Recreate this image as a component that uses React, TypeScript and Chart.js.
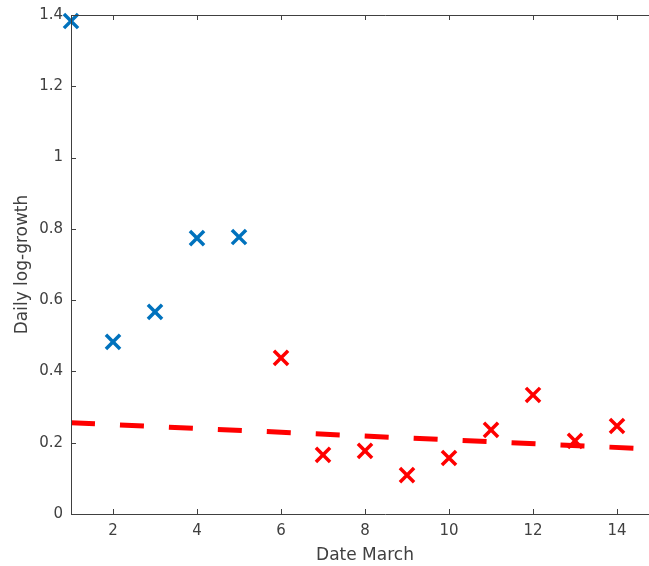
import React, { useEffect, useRef } from "react";
import { Chart, registerables } from "chart.js";

Chart.register(...registerables);

const earlyDays = [1, 2, 3, 4, 5];
const earlyGrowth = [1.383, 0.483, 0.567, 0.774, 0.777];
const lateDays = [6, 7, 8, 9, 10, 11, 12, 13, 14];
const lateGrowth = [0.438, 0.166, 0.177, 0.109, 0.157, 0.236, 0.334, 0.205, 0.247];
const trendDays = [1, 14.5];
const trendGrowth = [0.256, 0.184];
const xTickValues = [2, 4, 6, 8, 10, 12, 14];
const yTickValues = [0, 0.2, 0.4, 0.6, 0.8, 1, 1.2, 1.4];

const AXIS_COLOR = "#404040";
const FONT = "'DejaVu Sans', sans-serif";

const inwardTicks = {
  id: "inwardTicks",
  afterDatasetsDraw(chart: any) {
    const { ctx, chartArea, scales } = chart;
    const { left, top, bottom } = chartArea;
    const edge = chart.width;
    ctx.save();
    ctx.strokeStyle = AXIS_COLOR;
    ctx.lineWidth = 1;
    ctx.beginPath();
    ctx.moveTo(left + 0.5, bottom + 0.5);
    ctx.lineTo(left + 0.5, top + 0.5);
    ctx.lineTo(edge, top + 0.5);
    ctx.moveTo(left, bottom + 0.5);
    ctx.lineTo(edge, bottom + 0.5);
    const tl = 5;
    scales.x.ticks.forEach((t: any) => {
      const px = Math.round(scales.x.getPixelForValue(t.value)) + 0.5;
      ctx.moveTo(px, bottom);
      ctx.lineTo(px, bottom - tl);
      ctx.moveTo(px, top);
      ctx.lineTo(px, top + tl);
    });
    scales.y.ticks.forEach((t: any) => {
      const py = Math.round(scales.y.getPixelForValue(t.value)) + 0.5;
      ctx.moveTo(left, py);
      ctx.lineTo(left + tl, py);
    });
    ctx.stroke();
    ctx.restore();
  },
};

const zeroPad = (s: any) => {
  s.paddingLeft = 0;
  s.paddingRight = 0;
  s.paddingTop = 0;
  s.paddingBottom = 0;
  if (s._margins) {
    s._margins.left = 0;
    s._margins.right = 0;
    s._margins.top = 0;
    s._margins.bottom = 0;
  }
};

export default function App() {
  const ref = useRef<HTMLCanvasElement>(null);
  useEffect(() => {
    document.body.style.margin = "0";
    document.body.style.overflow = "hidden";
    const chart = new Chart(ref.current!, {
      type: "scatter",
      data: {
        datasets: [
          {
            label: "trend",
            type: "line",
            data: trendDays.map((d, i) => ({ x: d, y: trendGrowth[i] })),
            borderColor: "#ff0000",
            borderWidth: 5,
            borderDash: [24, 25],
            pointRadius: 0,
            showLine: true,
            fill: false,
            order: 3,
          } as any,
          {
            label: "early",
            data: earlyDays.map((d, i) => ({ x: d, y: earlyGrowth[i] })),
            pointStyle: "crossRot",
            pointRadius: 10,
            borderColor: "#0072BD",
            backgroundColor: "#0072BD",
            pointBorderWidth: 3.5,
            clip: false,
            order: 1,
          } as any,
          {
            label: "late",
            data: lateDays.map((d, i) => ({ x: d, y: lateGrowth[i] })),
            pointStyle: "crossRot",
            pointRadius: 10,
            borderColor: "#ff0000",
            backgroundColor: "#ff0000",
            pointBorderWidth: 3.5,
            clip: false,
            order: 2,
          } as any,
        ],
      },
      options: {
        animation: false,
        responsive: false,
        maintainAspectRatio: false,
        layout: { padding: { left: 0, top: 15, right: 41, bottom: 0 } },
        plugins: { legend: { display: false }, tooltip: { enabled: false } },
        scales: {
          x: {
            type: "linear",
            min: 1,
            max: 15,
            afterBuildTicks: (s: any) => {
              s.ticks = xTickValues.map((v) => ({ value: v }));
            },
            afterFit: (s: any) => {
              s.height = 52;
              zeroPad(s);
            },
            grid: { display: false, drawTicks: false },
            border: { display: false },
            ticks: {
              color: AXIS_COLOR,
              font: { family: FONT, size: 15 },
              padding: 8,
              maxRotation: 0,
              callback: (v: any) => String(v),
            },
            title: {
              display: true,
              text: "Date March",
              color: AXIS_COLOR,
              font: { family: FONT, size: 17 },
              padding: { top: 0, bottom: 0 },
            },
          },
          y: {
            type: "linear",
            min: 0,
            max: 1.4,
            afterBuildTicks: (s: any) => {
              s.ticks = yTickValues.map((v) => ({ value: v }));
            },
            afterFit: (s: any) => {
              s.width = 71;
              zeroPad(s);
            },
            grid: { display: false, drawTicks: false },
            border: { display: false },
            ticks: {
              color: AXIS_COLOR,
              font: { family: FONT, size: 15 },
              padding: 8,
              callback: (v: any) => String(Math.round(v * 10) / 10),
            },
            title: {
              display: true,
              text: "Daily log-growth",
              color: AXIS_COLOR,
              font: { family: FONT, size: 17 },
              padding: { top: 12, bottom: 0 },
            },
          },
        },
      },
      plugins: [inwardTicks],
    });
    return () => chart.destroy();
  }, []);
  return (
    <div style={{ width: 649, height: 566, overflow: "hidden", position: "relative" }}>
      <canvas ref={ref} width={700} height={566} style={{ display: "block" }} />
    </div>
  );
}
